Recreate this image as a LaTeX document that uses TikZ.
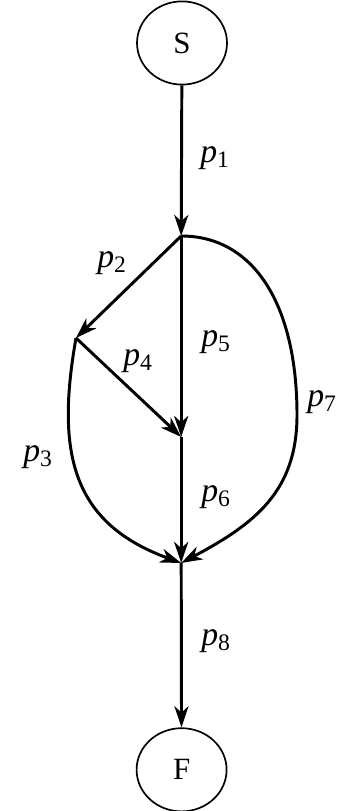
\documentclass[tikz,border=0pt]{standalone}
\usepackage{fontspec}
\setmainfont{Liberation Serif}
\usetikzlibrary{arrows.meta, shapes.geometric}
\tikzset{
  endpt/.style={ellipse, draw=black, line width=1.2pt, inner sep=0pt,
                minimum width=2.25cm, minimum height=2.08cm,
                font=\fontsize{22}{26}\selectfont},
  diredge/.style={line width=2.1pt, -{Stealth[length=15pt, width=10pt, inset=4.5pt]}},
  plabel/.style={inner sep=1pt, font=\fontsize{24}{28}\selectfont},
}
\newcommand{\plab}[1]{\textit{p}\textsubscript{#1}}

\begin{document}
\begin{tikzpicture}[>=Stealth]
  \useasboundingbox (0,0) rectangle (8.775,20.275);
  %% start and finish
  \node[endpt] (S) at (4.55,19.2) {S};
  \node[endpt] (F) at (4.54,1.03) {F};
  %% branch points
  \coordinate (v1) at (4.53,14.375);
  \coordinate (v2) at (1.9,11.825);
  \coordinate (v3) at (4.53,9.35);
  \coordinate (v4) at (4.53,6.2);
  \coordinate (v7) at (7.425,9.9); % far right of p7
  %% paths
  \draw[diredge] (S) -- (v1);
  \draw[diredge] (v1) -- (v2);
  \draw[diredge] (v2) -- (v3);
  \draw[diredge] (v1) -- (v3);
  \draw[diredge] (v3) -- (v4);
  \draw[diredge] (v2) to[out=-100, in=160, looseness=1.2] (v4);
  \draw[diredge] (v1) to[out=0, in=90, out distance=1.8cm, in distance=2.78cm] (v7)
                      to[out=-90, in=28, out distance=1.9cm, in distance=2.1cm] (v4);
  \draw[diredge] (v4) -- (F);
  %% labels
  \node[plabel] (l1) at (5.375,16.325) {\plab{1}};
  \node[plabel] (l2) at (2.8,13.7)     {\plab{2}};
  \node[plabel] (l3) at (0.95,8.85)    {\plab{3}};
  \node[plabel] (l4) at (3.45,11.25)   {\plab{4}};
  \node[plabel] (l5) at (5.4,11.725)   {\plab{5}};
  \node[plabel] (l6) at (5.4,7.85)     {\plab{6}};
  \node[plabel] (l7) at (8.05,10.225)  {\plab{7}};
  \node[plabel] (l8) at (5.4,4.25)     {\plab{8}};
\end{tikzpicture}
\end{document}
